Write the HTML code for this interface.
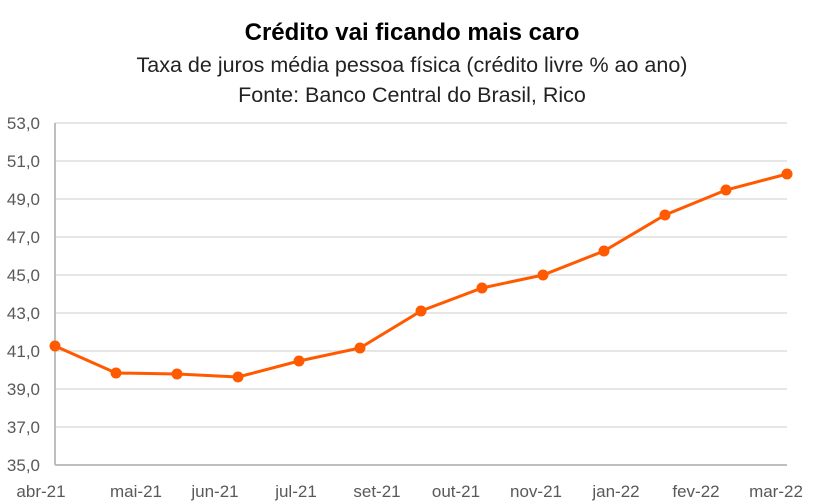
<!DOCTYPE html>
<html><head><meta charset="utf-8"><style>
body{margin:0;background:#fff;}
svg{display:block;font-family:"Liberation Sans",sans-serif;}
</style></head><body>
<svg width="824" height="504" viewBox="0 0 824 504">
<text x="412" y="40" text-anchor="middle" font-size="24" font-weight="bold" fill="#000">Crédito vai ficando mais caro</text>
<text x="412" y="72" text-anchor="middle" font-size="21.5" fill="#222">Taxa de juros média pessoa física (crédito livre % ao ano)</text>
<text x="412" y="102" text-anchor="middle" font-size="21.5" fill="#222">Fonte: Banco Central do Brasil, Rico</text>
<g stroke="#e6e6e6" stroke-width="2">
<line x1="55" x2="787" y1="123" y2="123"/><line x1="55" x2="787" y1="161" y2="161"/>
<line x1="55" x2="787" y1="199" y2="199"/><line x1="55" x2="787" y1="237" y2="237"/>
<line x1="55" x2="787" y1="275" y2="275"/><line x1="55" x2="787" y1="313" y2="313"/>
<line x1="55" x2="787" y1="351" y2="351"/><line x1="55" x2="787" y1="389" y2="389"/>
<line x1="55" x2="787" y1="427" y2="427"/>
</g>
<line x1="55" x2="787" y1="465" y2="465" stroke="#bfbfbf" stroke-width="2"/>
<line x1="55" x2="55" y1="123" y2="465" stroke="#bfbfbf" stroke-width="2"/>
<g font-size="17" fill="#595959" text-anchor="end">
<text x="40" y="129">53,0</text><text x="40" y="167">51,0</text><text x="40" y="205">49,0</text>
<text x="40" y="243">47,0</text><text x="40" y="281">45,0</text><text x="40" y="319">43,0</text>
<text x="40" y="357">41,0</text><text x="40" y="395">39,0</text><text x="40" y="433">37,0</text>
<text x="40" y="471">35,0</text>
</g>
<g font-size="17" fill="#595959" text-anchor="middle">
<text x="41" y="497">abr-21</text><text x="136" y="497">mai-21</text><text x="215" y="497">jun-21</text>
<text x="296" y="497">jul-21</text><text x="377" y="497">set-21</text><text x="456" y="497">out-21</text>
<text x="536" y="497">nov-21</text><text x="616" y="497">jan-22</text><text x="696" y="497">fev-22</text>
<text x="776" y="497">mar-22</text>
</g>
<polyline fill="none" stroke="#ff5a00" stroke-width="3" points="55,346 116,373 177,374 238,377 299,361 360,348 421,311 482,288 543,275 604,251 665,215 726,190 787,174"/>
<g fill="#ff5a00">
<circle cx="55" cy="346" r="5.5"/><circle cx="116" cy="373" r="5.5"/><circle cx="177" cy="374" r="5.5"/>
<circle cx="238" cy="377" r="5.5"/><circle cx="299" cy="361" r="5.5"/><circle cx="360" cy="348" r="5.5"/>
<circle cx="421" cy="311" r="5.5"/><circle cx="482" cy="288" r="5.5"/><circle cx="543" cy="275" r="5.5"/>
<circle cx="604" cy="251" r="5.5"/><circle cx="665" cy="215" r="5.5"/><circle cx="726" cy="190" r="5.5"/>
<circle cx="787" cy="174" r="5.5"/>
</g>
</svg>
</body></html>
